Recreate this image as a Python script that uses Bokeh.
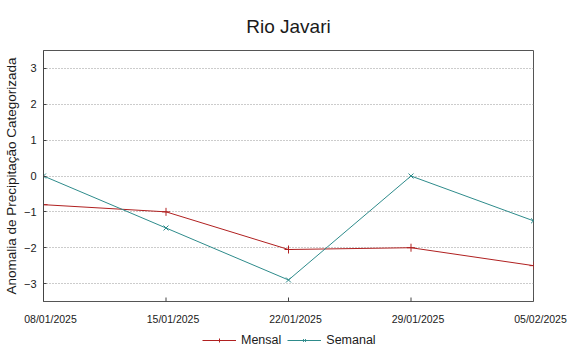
import numpy as np
import pandas as pd
from bokeh.plotting import figure
from bokeh.layouts import column
from bokeh.models import (ColumnDataSource, FixedTicker, Legend, LegendItem,
                          Range1d, DatetimeTickFormatter)
from bokeh.embed import file_html
from bokeh.resources import INLINE

# ---- data ----
title_text = "Rio Javari"
y_label = "Anomalia de Precipitação Categorizada"
dates = ["08/01/2025", "15/01/2025", "22/01/2025", "29/01/2025", "05/02/2025"]
mensal = [-0.8, -1.0, -2.05, -2.0, -2.5]
semanal = [0.0, -1.45, -2.9, 0.0, -1.25]
y_ticks = [-3, -2, -1, 0, 1, 2, 3]
series_names = ["Mensal", "Semanal"]

RED = "#b02020"
TEAL = "#2e8b8b"
TXT = "#1a1a1a"
AXC = "#444444"
FONT = "Liberation Sans"

x = pd.to_datetime(dates, format="%d/%m/%Y")
x_ms = [int(t.value // 10**6) for t in x]

W = 567
TOP_H, BOT_H = 303, 49
FL, FR = 43, 34                      # main frame side borders
FRAME_W = W - FL - FR

# ================= main chart =================
p = figure(width=W, height=TOP_H, x_axis_type="datetime", x_axis_location=None,
           x_range=Range1d(x_ms[0], x_ms[-1]), y_range=Range1d(-3.5, 3.5),
           output_backend="svg", toolbar_location=None,
           min_border_left=FL, min_border_right=FR,
           min_border_top=49, min_border_bottom=2)

p.title.text = title_text
p.title.align = "center"
p.title.text_font = FONT
p.title.text_font_size = "19px"
p.title.text_font_style = "normal"
p.title.text_color = TXT
p.title.standoff = 27

p.outline_line_color = "#555555"
p.outline_line_width = 1
p.background_fill_color = "white"
p.border_fill_color = "white"

p.xgrid.visible = False
p.ygrid.ticker = FixedTicker(ticks=y_ticks)
p.ygrid.grid_line_color = "#999999"
p.ygrid.grid_line_dash = "1 2"
p.ygrid.grid_line_width = 1

p.yaxis.ticker = FixedTicker(ticks=y_ticks)
p.yaxis.axis_label = y_label
p.yaxis.axis_label_text_font = FONT
p.yaxis.axis_label_text_font_size = "13.5px"
p.yaxis.axis_label_text_font_style = "normal"
p.yaxis.axis_label_text_color = TXT
p.yaxis.axis_label_standoff = 2
p.yaxis.major_label_text_font = FONT
p.yaxis.major_label_text_font_size = "11px"
p.yaxis.major_label_text_color = TXT
p.yaxis.major_label_standoff = 7
p.yaxis.major_tick_in = 3
p.yaxis.major_tick_out = 0
p.yaxis.minor_tick_line_color = None
p.yaxis.axis_line_color = AXC
p.yaxis.major_tick_line_color = AXC

# small inward tick marks on the bottom border at each date
p.scatter(x=x_ms, y=[p.y_range.start] * len(x_ms), marker="dash", angle=np.pi / 2,
          size=8, line_color=AXC, line_width=1)

src = ColumnDataSource(dict(x=x_ms, mensal=mensal, semanal=semanal))
p.line("x", "mensal", source=src, line_color=RED, line_width=1)
p.scatter("x", "mensal", source=src, marker="cross", size=8, line_color=RED, line_width=1)
p.line("x", "semanal", source=src, line_color=TEAL, line_width=1)
p.scatter("x", "semanal", source=src, marker="x", size=7, line_color=TEAL, line_width=1)

# ================= strip below: date labels + legend =================
mpp = (x_ms[-1] - x_ms[0]) / FRAME_W          # ms per pixel on the main frame
LABEL_SHIFT = 7                                # reference labels sit 7px right of ticks
aligned = True
try:
    p.frame_align = False
    aligned = False
except Exception:
    pass

if not aligned:
    q_range = Range1d(x_ms[0] - (FL + LABEL_SHIFT) * mpp, x_ms[-1] + (FR - LABEL_SHIFT) * mpp)
    q_left = 0
else:
    q_range = p.x_range
    q_left = FL

q = figure(width=W, height=BOT_H, x_axis_type="datetime", x_axis_location="above",
           y_axis_location=None, x_range=q_range, y_range=Range1d(0, 1),
           output_backend="svg", toolbar_location=None,
           min_border_left=0, min_border_right=0, min_border_top=22, min_border_bottom=0,
           outline_line_color=None)
if not aligned:
    q.frame_align = False
q.grid.visible = False

DF = "%d/%m/%Y"
q.xaxis.ticker = FixedTicker(ticks=x_ms)
q.xaxis.formatter = DatetimeTickFormatter(days=DF, months=DF, years=DF, hours=DF,
                                          minutes=DF, seconds=DF, milliseconds=DF,
                                          minsec=DF, hourmin=DF)
q.xaxis.axis_line_color = None
q.xaxis.major_tick_in = 0
q.xaxis.major_tick_out = 0
q.xaxis.minor_tick_line_color = None
q.xaxis.major_label_standoff = 1
q.xaxis.major_label_text_font = FONT
q.xaxis.major_label_text_font_size = "10.5px"
q.xaxis.major_label_text_color = TXT

nan_src = ColumnDataSource(dict(x=[np.nan], y=[np.nan]))
k1l = q.line("x", "y", source=nan_src, line_color=RED, line_width=1)
k1m = q.scatter("x", "y", source=nan_src, marker="cross", size=8, line_color=RED, line_width=1)
k2l = q.line("x", "y", source=nan_src, line_color=TEAL, line_width=1)
k2m = q.scatter("x", "y", source=nan_src, marker="x", size=7, line_color=TEAL, line_width=1)

legend = Legend(items=[LegendItem(label=series_names[0], renderers=[k1l, k1m]),
                       LegendItem(label=series_names[1], renderers=[k2l, k2m])],
                orientation="horizontal", location=(202 - q_left, 5),
                glyph_width=34, glyph_height=10, label_width=0, label_height=10,
                label_standoff=5, spacing=6, padding=0, margin=0,
                border_line_color=None, background_fill_alpha=0,
                label_text_baseline="middle",
                label_text_font=FONT, label_text_font_size="12.5px",
                label_text_color=TXT)
q.add_layout(legend)

open("out.html", "w").write(file_html(column(p, q, spacing=0), INLINE))
